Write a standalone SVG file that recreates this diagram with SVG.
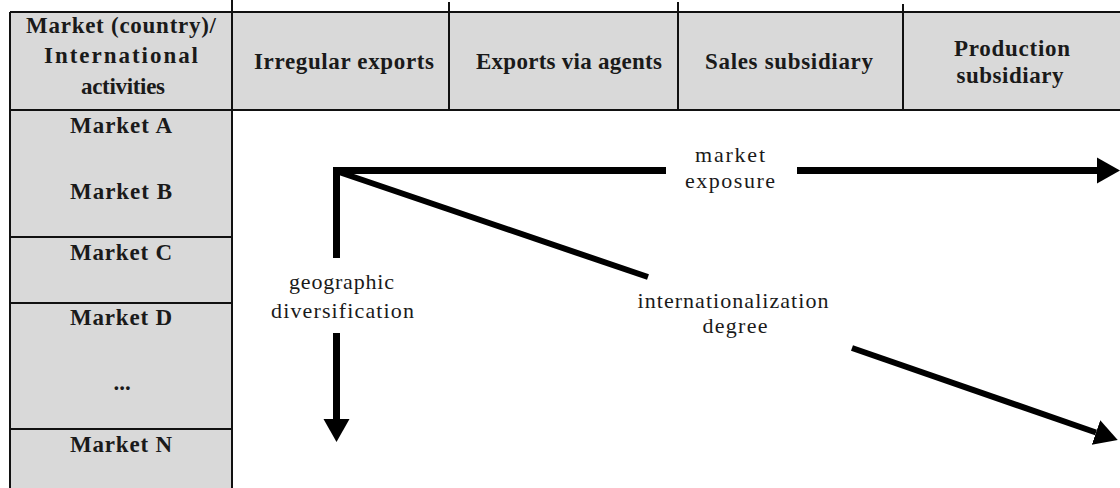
<svg xmlns="http://www.w3.org/2000/svg" width="1120" height="488" viewBox="0 0 1120 488">
<style>
.cell{fill:#d9d9d9;stroke:none}
.grid{stroke:#111;stroke-width:2;fill:none}
.hd{font-weight:700;font-size:23px;fill:#1a1a1a;text-anchor:middle}
.lb{font-size:22px;fill:#1a1a1a;text-anchor:middle}
.ar{stroke:#000;stroke-width:7;fill:none}
.dg{stroke:#000;stroke-width:6;fill:none}
</style>
<defs>
<marker id="head" viewBox="0 -14 24 28" markerUnits="userSpaceOnUse" markerWidth="24" markerHeight="28" refX="0" refY="0" orient="auto">
<path d="M0,-13 L23,0 L0,13 Z" fill="#000"/>
</marker>
</defs>
<rect width="1120" height="488" fill="#fff"/>
<rect class="cell" x="10" y="12" width="1110" height="98"/>
<rect class="cell" x="10" y="110" width="222" height="378"/>
<g id="grid" class="grid">
<line x1="10" y1="12" x2="1120" y2="12"/>
<line x1="10" y1="110" x2="1120" y2="110"/>
<line x1="10" y1="12" x2="10" y2="488"/>
<line x1="232" y1="0" x2="232" y2="488"/>
<line x1="449" y1="2" x2="449" y2="110"/>
<line x1="678" y1="2" x2="678" y2="110"/>
<line x1="903" y1="4" x2="903" y2="110"/>
<line x1="10" y1="237" x2="232" y2="237"/>
<line x1="10" y1="303" x2="232" y2="303"/>
<line x1="10" y1="429" x2="232" y2="429"/>
</g>
<g id="h-market">
<text class="hd" font-family="Liberation Serif" x="121" y="33" textLength="190">Market (country)/</text>
<text class="hd" font-family="Liberation Serif" x="121" y="63" textLength="154">International</text>
<text class="hd" font-family="Liberation Serif" x="123" y="94" textLength="84">activities</text>
</g>
<g id="h-irregular"><text class="hd" font-family="Liberation Serif" x="344" y="69" textLength="180">Irregular exports</text></g>
<g id="h-agents"><text class="hd" font-family="Liberation Serif" x="569" y="69" textLength="186">Exports via agents</text></g>
<g id="h-sales"><text class="hd" font-family="Liberation Serif" x="789" y="69" textLength="168">Sales subsidiary</text></g>
<g id="h-production">
<text class="hd" font-family="Liberation Serif" x="1012" y="56" textLength="116">Production</text>
<text class="hd" font-family="Liberation Serif" x="1010" y="83" textLength="107">subsidiary</text>
</g>
<g id="m-a"><text class="hd" font-family="Liberation Serif" x="121" y="133" textLength="102">Market A</text></g>
<g id="m-b"><text class="hd" font-family="Liberation Serif" x="121" y="199" textLength="102">Market B</text></g>
<g id="m-c"><text class="hd" font-family="Liberation Serif" x="121" y="260" textLength="102">Market C</text></g>
<g id="m-d"><text class="hd" font-family="Liberation Serif" x="121" y="325" textLength="102">Market D</text></g>
<g id="m-dots"><text class="hd" font-family="Liberation Serif" x="122" y="390">...</text></g>
<g id="m-n"><text class="hd" font-family="Liberation Serif" x="121" y="452" textLength="102">Market N</text></g>
<g id="connectors">
<line class="ar" x1="333" y1="170.5" x2="666" y2="170.5"/>
<line class="ar" x1="336.5" y1="167" x2="336.5" y2="258"/>
<line class="ar" x1="797" y1="170.5" x2="1097" y2="170.5" marker-end="url(#head)"/>
<line class="ar" x1="336.5" y1="333" x2="336.5" y2="419" marker-end="url(#head)"/>
<line class="dg" x1="339" y1="172" x2="648" y2="277"/>
<line class="dg" x1="852" y1="348" x2="1096" y2="432.5" marker-end="url(#head)"/>
</g>
<g id="lbl-market-exposure">
<text class="lb" font-family="Liberation Serif" x="730" y="162" textLength="70">market</text>
<text class="lb" font-family="Liberation Serif" x="730" y="188" textLength="90">exposure</text>
</g>
<g id="lbl-geographic">
<text class="lb" font-family="Liberation Serif" x="341.5" y="289" textLength="105">geographic</text>
<text class="lb" font-family="Liberation Serif" x="342.5" y="318" textLength="143">diversification</text>
</g>
<g id="lbl-intl-degree">
<text class="lb" font-family="Liberation Serif" x="733" y="308" textLength="191">internationalization</text>
<text class="lb" font-family="Liberation Serif" x="735" y="333" textLength="65">degree</text>
</g>
</svg>
